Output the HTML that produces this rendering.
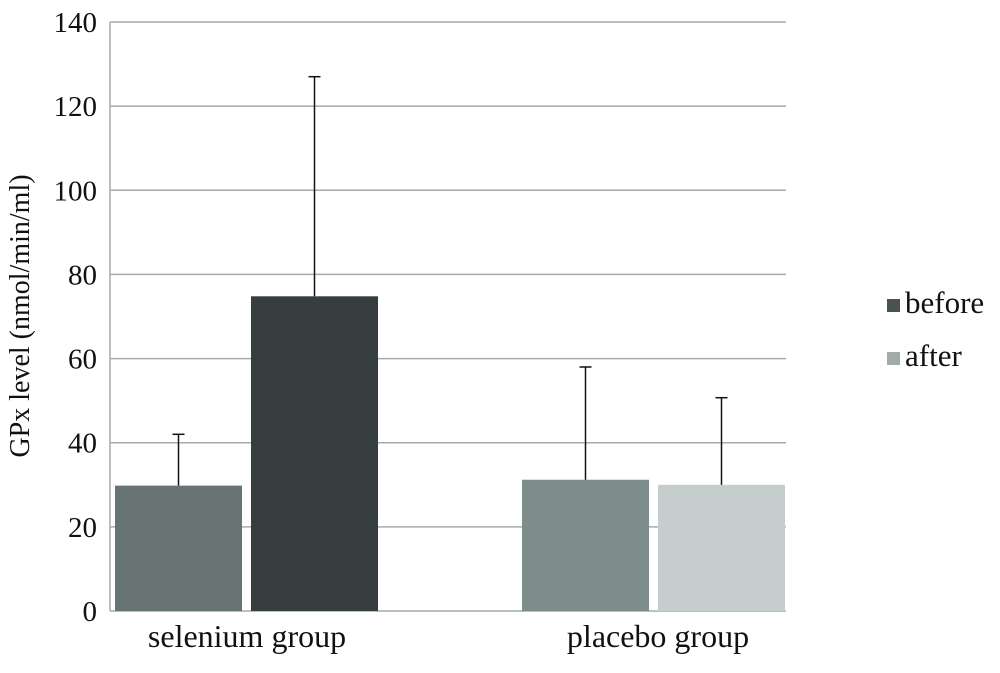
<!DOCTYPE html>
<html><head><meta charset="utf-8"><style>
html,body{margin:0;padding:0;background:#fff;}
svg{display:block;font-family:"Liberation Serif",serif;}
</style></head><body>
<svg id="chart" width="1000" height="673"></svg>
<script>
const categories = ["selenium group", "placebo group"];
const seriesNames = ["before", "after"];
const beforeValues = [29.8, 31.2];
const afterValues = [74.8, 30.0];
const beforeErrTop = [42, 58];
const afterErrTop = [127, 50.7];
const yTicks = [0, 20, 40, 60, 80, 100, 120, 140];
const barColors = [["#687474", "#363d3e"], ["#7f8c8c", "#c5cecc"]];
const legendColors = ["#4a5354", "#a3abaa"];

const NS = "http://www.w3.org/2000/svg";
const svg = document.getElementById("chart");
const x0 = 110, x1 = 786, yBase = 611, yTop = 22, yMax = 140;
const y = v => yBase - (v / yMax) * (yBase - yTop);
const groupStep = 407;
const xBar = (g, s) => x0 + 5 + g * groupStep + s * 136;
const barW = 127;
function mk(tag, attrs, name) {
  const e = document.createElementNS(NS, tag);
  for (const k in attrs) e.setAttribute(k, attrs[k]);
  
  
  svg.appendChild(e);
  return e;
}
yTicks.forEach(t => {
  mk("line", {x1: x0, x2: x1, y1: y(t), y2: y(t), stroke: "#a3abab", "stroke-width": 1.5}, "gridline");
  const tx = mk("text", {x: 97, y: y(t) + 10, "text-anchor": "end", "font-size": 29, fill: "#111"}, "y-tick-label");
  tx.textContent = t;
});
mk("line", {x1: x0, x2: x0, y1: yTop, y2: yBase, stroke: "#a3abab", "stroke-width": 1.5}, "y-axis-line");
const series = [beforeValues, afterValues];
const errs = [beforeErrTop, afterErrTop];
categories.forEach((c, g) => {
  series.forEach((vals, s) => {
    const bx = xBar(g, s);
    mk("rect", {x: bx, y: y(vals[g]), width: barW, height: yBase - y(vals[g]), fill: barColors[g][s]}, "bar-" + seriesNames[s] + "-" + g);
    const cx = bx + barW / 2;
    mk("line", {x1: cx, x2: cx, y1: y(vals[g]), y2: y(errs[s][g]), stroke: "#111", "stroke-width": 1.5}, "error-bar");
    mk("line", {x1: cx - 6, x2: cx + 6, y1: y(errs[s][g]), y2: y(errs[s][g]), stroke: "#111", "stroke-width": 1.5}, "error-cap");
  });
  const lab = mk("text", {x: xBar(g, 0) + 132 + (g ? 4 : 0), y: 647, "text-anchor": "middle", "font-size": 32, fill: "#111"}, "x-category-label");
  lab.textContent = c;
});
const yt = mk("text", {x: 0, y: 0, transform: "translate(29,316) rotate(-90)", "text-anchor": "middle", "font-size": 28, fill: "#111"}, "y-axis-title");
yt.textContent = "GPx level (nmol/min/ml)";
seriesNames.forEach((n, i) => {
  const ly = 313 + i * 53;
  mk("rect", {x: 887, y: ly - 14, width: 13, height: 13, fill: legendColors[i]}, "legend-swatch-" + n);
  const t = mk("text", {x: 905, y: ly, "font-size": 31, fill: "#111"}, "legend-entry-" + n);
  t.textContent = n;
});
</script>
</body></html>
